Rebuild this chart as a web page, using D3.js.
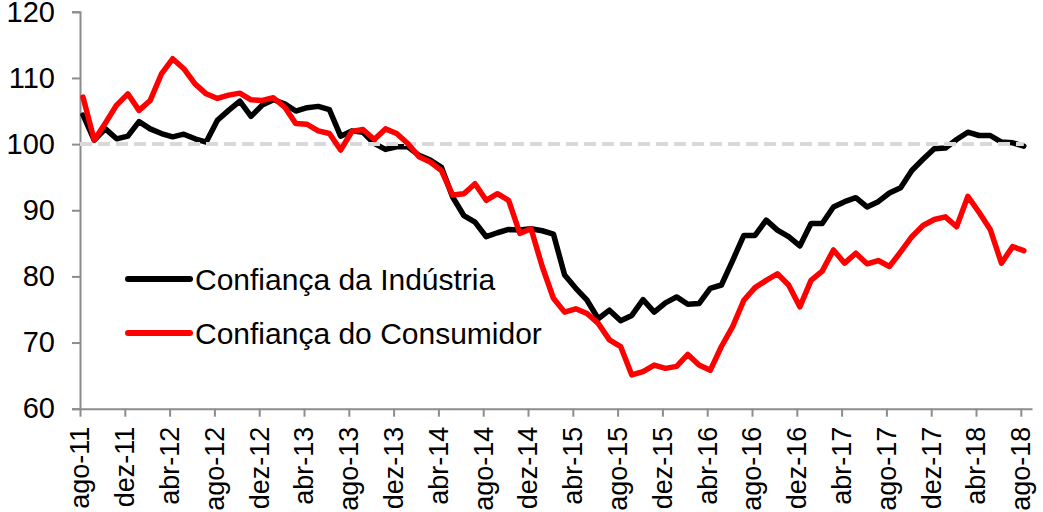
<!DOCTYPE html>
<html>
<head>
<meta charset="utf-8">
<script src="https://d3js.org/d3.v7.min.js"></script>
<style>
    body { margin: 0; background: #fff; }
    text { font-family: "Liberation Sans", Arial, sans-serif; }
</style>
</head>
<body>
<script>
//month labels, one every four months (ago-11 .. ago-18)
var tickLabels = ["ago-11", "dez-11", "abr-12", "ago-12", "dez-12", "abr-13", "ago-13", "dez-13",
    "abr-14", "ago-14", "dez-14", "abr-15", "ago-15", "dez-15", "abr-16", "ago-16",
    "dez-16", "abr-17", "ago-17", "dez-17", "abr-18", "ago-18"];

//Confiança da Indústria, monthly ago-11 .. ago-18
var industria = [104.4, 100.6, 102.3, 100.8, 101.2, 103.4, 102.3, 101.6, 101.1, 101.5,
    100.8, 100.3, 103.6, 105.1, 106.5, 104.2, 105.9, 106.7, 106.1, 105.0,
    105.5, 105.7, 105.2, 101.2, 102.0, 101.8, 100.1, 99.2, 99.6, 99.6,
    98.3, 97.6, 96.5, 92.0, 89.2, 88.2, 86.0, 86.6, 87.1, 87.0,
    87.2, 86.9, 86.4, 80.2, 78.2, 76.4, 73.6, 74.9, 73.3, 74.1,
    76.5, 74.6, 76.0, 76.9, 75.8, 75.9, 78.2, 78.7, 82.4, 86.2,
    86.2, 88.5, 87.0, 86.0, 84.6, 88.0, 88.0, 90.5, 91.3, 91.9,
    90.5, 91.3, 92.6, 93.4, 96.0, 97.7, 99.3, 99.4, 100.7, 101.8,
    101.3, 101.3, 100.3, 100.2, 99.7];

//Confiança do Consumidor, monthly ago-11 .. ago-18
var consumidor = [107.1, 100.6, 103.2, 105.9, 107.6, 105.1, 106.6, 110.6, 112.9, 111.4,
    109.1, 107.6, 106.9, 107.4, 107.7, 106.7, 106.6, 107.0, 105.6, 103.1,
    103.0, 102.0, 101.6, 99.1, 101.9, 102.2, 100.7, 102.3, 101.6, 100.1,
    98.1, 97.3, 96.0, 92.3, 92.5, 94.0, 91.5, 92.5, 91.5, 86.5,
    87.2, 81.5, 76.7, 74.6, 75.1, 74.4, 72.9, 70.4, 69.4, 65.1,
    65.6, 66.6, 66.1, 66.4, 68.2, 66.6, 65.8, 69.4, 72.4, 76.4,
    78.3, 79.4, 80.4, 78.7, 75.4, 79.4, 80.8, 84.0, 82.0, 83.5,
    81.9, 82.4, 81.5, 83.7, 86.0, 87.7, 88.6, 89.0, 87.5, 92.1,
    89.7, 87.1, 82.0, 84.5, 83.9];

var seriesNames = ["Confiança da Indústria", "Confiança do Consumidor"];
var yTicks = [60, 70, 80, 90, 100, 110, 120];

window.onload = drawChart();

function drawChart(){

    //svg frame
    var width = 1043,
        height = 512;

    var svg = d3.select("body")
        .append("svg")
        .attr("width", width)
        .attr("height", height);

    //month index scale, axis runs one month past the last point
    var x = d3.scaleLinear()
        .domain([0, industria.length])
        .range([80, 1032]);

    var y = d3.scaleLinear()
        .domain([60, 120])
        .range([408.7, 11.8]);

    //points sit a little right of the month ticks, as in the original
    var shift = 0.27;

    var line = d3.line()
        .x(function(d, i){ return x(i + shift); })
        .y(function(d){ return y(d); });

    //y axis
    var yAxis = svg.append("g")
        .attr("transform", "translate(80,0)")
        .call(d3.axisLeft(y).tickValues(yTicks).tickSize(8).tickPadding(17));

    //x axis
    var xAxis = svg.append("g")
        .attr("transform", "translate(0," + y(60) + ")")
        .call(d3.axisBottom(x)
            .tickValues(d3.range(0, industria.length, 4))
            .tickFormat(function(d, i){ return tickLabels[i]; })
            .tickSize(8)
            .tickSizeOuter(0));

    svg.selectAll(".domain, .tick line")
        .attr("stroke", "#8c8c8c")
        .attr("stroke-width", 2);

    yAxis.selectAll("text")
        .attr("font-size", 29)
        .attr("fill", "#000");

    xAxis.selectAll("text")
        .attr("font-size", 27)
        .attr("fill", "#000")
        .attr("text-anchor", "end")
        .attr("transform", "rotate(-90)")
        .attr("x", -18)
        .attr("y", 0)
        .attr("dy", "0.33em");

    //industry line first, reference line, then consumer on top
    svg.append("path")
        .datum(industria)
        .attr("fill", "none")
        .attr("stroke", "#000")
        .attr("stroke-width", 5.5)
        .attr("stroke-linejoin", "round")
        .attr("stroke-linecap", "round")
        .attr("d", line);

    svg.append("line")
        .attr("x1", x(0))
        .attr("x2", x(industria.length - 1 + shift))
        .attr("y1", y(100))
        .attr("y2", y(100))
        .attr("stroke", "#d9d9d9")
        .attr("stroke-width", 4)
        .attr("stroke-dasharray", "12,6");

    svg.append("path")
        .datum(consumidor)
        .attr("fill", "none")
        .attr("stroke", "#ff0000")
        .attr("stroke-width", 5.5)
        .attr("stroke-linejoin", "round")
        .attr("stroke-linecap", "round")
        .attr("d", line);

    //legend
    var legend = svg.selectAll(".legend")
        .data(seriesNames)
        .enter()
        .append("g")
        .attr("class", "legend")
        .attr("transform", function(d, i){
            return "translate(128," + (279 + i * 54) + ")";
        });

    legend.append("line")
        .attr("x1", 0)
        .attr("x2", 62)
        .attr("stroke", function(d, i){ return i == 0 ? "#000" : "#ff0000"; })
        .attr("stroke-width", 6)
        .attr("stroke-linecap", "round");

    legend.append("text")
        .attr("x", 67)
        .attr("dy", "0.35em")
        .attr("font-size", 30)
        .text(function(d){ return d; });
};
</script>
</body>
</html>
